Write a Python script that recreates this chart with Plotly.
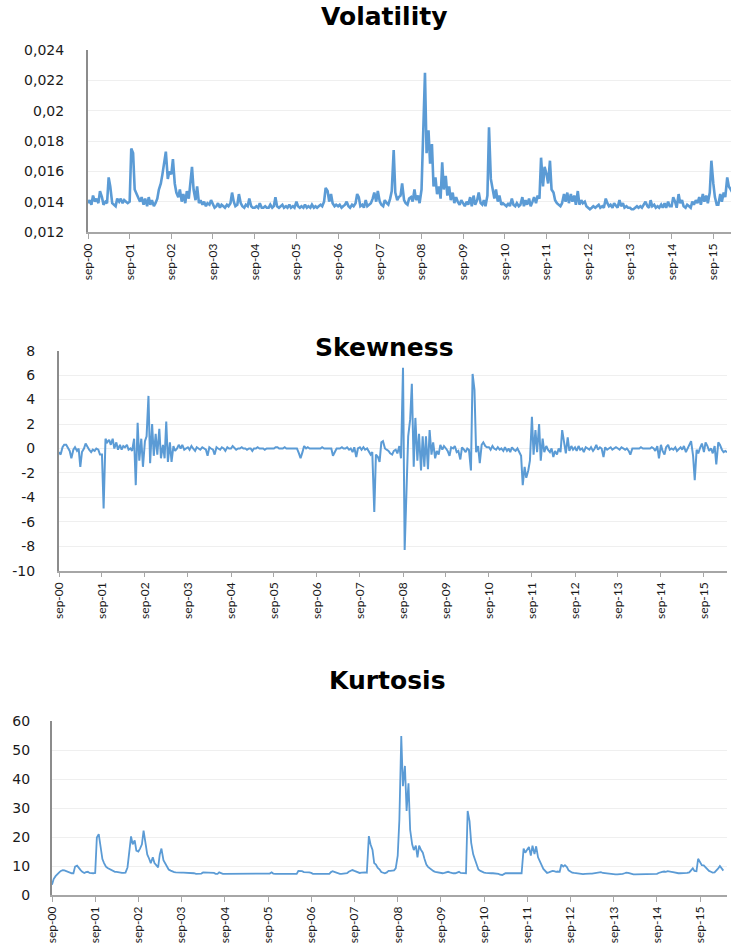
import pandas as pd
import plotly.graph_objects as go

# Semi-monthly observation dates (1st and 15th of each month), Sep 2000 - Mar 2016
dates = pd.date_range("2000-09-01", periods=374, freq="SMS")

# One row per year, starting in September
volatility = [
    0.0139, 0.0141, 0.0138, 0.0144, 0.0140, 0.0142, 0.0139, 0.0147, 0.0143, 0.0138, 0.0140, 0.0139, 0.0156, 0.0150, 0.0139, 0.0138, 0.0137, 0.0142, 0.0140, 0.0142, 0.0139, 0.0141, 0.0140, 0.0139,
    0.0140, 0.0175, 0.0172, 0.0148, 0.0145, 0.0142, 0.0140, 0.0143, 0.0138, 0.0142, 0.0137, 0.0143, 0.0138, 0.0141, 0.0137, 0.0139, 0.0142, 0.0148, 0.0152, 0.0158, 0.0165, 0.0173, 0.0155, 0.0160,
    0.0158, 0.0168, 0.0152, 0.0146, 0.0143, 0.0148, 0.0140, 0.0145, 0.0139, 0.0147, 0.0142, 0.0153, 0.0163, 0.0148, 0.0141, 0.0150, 0.0139, 0.0141, 0.0138, 0.0140, 0.0137, 0.0139, 0.0138, 0.0141,
    0.0138, 0.0136, 0.0137, 0.0139, 0.0136, 0.0138, 0.0137, 0.0136, 0.0138, 0.0137, 0.0139, 0.0146, 0.0140, 0.0137, 0.0138, 0.0145, 0.0139, 0.0137, 0.0136, 0.0138, 0.0137, 0.0142, 0.0137, 0.0136,
    0.0136, 0.0137, 0.0136, 0.0139, 0.0136, 0.0136, 0.0137, 0.0136, 0.0136, 0.0138, 0.0136, 0.0137, 0.0143, 0.0137, 0.0136, 0.0137, 0.0138, 0.0136, 0.0137, 0.0136, 0.0138, 0.0136, 0.0137, 0.0136,
    0.0140, 0.0137, 0.0136, 0.0137, 0.0136, 0.0138, 0.0136, 0.0137, 0.0136, 0.0138, 0.0136, 0.0137, 0.0136, 0.0137, 0.0138, 0.0137, 0.0140, 0.0149, 0.0147, 0.0140, 0.0145, 0.0139, 0.0137, 0.0138,
    0.0137, 0.0138, 0.0136, 0.0137, 0.0138, 0.0140, 0.0137, 0.0136, 0.0138, 0.0137, 0.0139, 0.0145, 0.0143, 0.0137, 0.0138, 0.0136, 0.0141, 0.0137, 0.0138, 0.0139, 0.0142, 0.0146, 0.0140, 0.0147,
    0.0140, 0.0138, 0.0137, 0.0141, 0.0139, 0.0138, 0.0142, 0.0147, 0.0174, 0.0146, 0.0141, 0.0143, 0.0144, 0.0152, 0.0141, 0.0139, 0.0138, 0.0142, 0.0143, 0.0140, 0.0148, 0.0141, 0.0144, 0.0139,
    0.0148, 0.0178, 0.0225, 0.0172, 0.0187, 0.0165, 0.0178, 0.0150, 0.0156, 0.0145, 0.0150, 0.0142, 0.0166, 0.0148, 0.0157, 0.0144, 0.0150, 0.0141, 0.0146, 0.0139, 0.0143, 0.0140, 0.0138, 0.0141,
    0.0139, 0.0137, 0.0140, 0.0138, 0.0143, 0.0137, 0.0144, 0.0138, 0.0141, 0.0146, 0.0139, 0.0138, 0.0141, 0.0137, 0.0144, 0.0189, 0.0155, 0.0150, 0.0142, 0.0148, 0.0140, 0.0144, 0.0138, 0.0139,
    0.0138, 0.0137, 0.0139, 0.0137, 0.0142, 0.0138, 0.0137, 0.0139, 0.0137, 0.0138, 0.0143, 0.0137, 0.0141, 0.0138, 0.0142, 0.0137, 0.0140, 0.0143, 0.0139, 0.0144, 0.0142, 0.0169, 0.0150, 0.0163,
    0.0158, 0.0152, 0.0167, 0.0148, 0.0146, 0.0141, 0.0139, 0.0138, 0.0137, 0.0139, 0.0145, 0.0140, 0.0146, 0.0139, 0.0145, 0.0140, 0.0144, 0.0138, 0.0147, 0.0138, 0.0141, 0.0139, 0.0140, 0.0137,
    0.0136, 0.0135, 0.0136, 0.0137, 0.0136, 0.0137, 0.0138, 0.0136, 0.0137, 0.0136, 0.0142, 0.0139, 0.0137, 0.0138, 0.0136, 0.0139, 0.0137, 0.0136, 0.0141, 0.0137, 0.0139, 0.0136, 0.0137, 0.0136,
    0.0136, 0.0135, 0.0135, 0.0136, 0.0137, 0.0136, 0.0137, 0.0136, 0.0138, 0.0140, 0.0137, 0.0136, 0.0141, 0.0137, 0.0138, 0.0136, 0.0137, 0.0136, 0.0138, 0.0136, 0.0139, 0.0136, 0.0140, 0.0137,
    0.0137, 0.0143, 0.0140, 0.0136, 0.0145, 0.0139, 0.0141, 0.0137, 0.0136, 0.0138, 0.0137, 0.0136, 0.0140, 0.0138, 0.0141, 0.0139, 0.0143, 0.0138, 0.0145, 0.0140, 0.0144, 0.0139, 0.0146, 0.0167,
    0.0152, 0.0143, 0.0138, 0.0138, 0.0145, 0.0140, 0.0146, 0.0143, 0.0156, 0.0150, 0.0148, 0.0146, 0.0150, 0.0156,
]

skewness = [
    -0.3, -0.5, 0.1, 0.3, 0.3, 0.0, -0.2, -0.8, -0.1, 0.1, -0.2, 0.0, -1.5, -0.3, 0.0, 0.4, 0.1, -0.1, -0.3, -0.1, -0.2, 0.0, -0.1, -0.5,
    -0.5, -4.9, 0.8, 0.5, 0.7, 0.3, 0.8, 0.0, 0.5, -0.1, 0.3, -0.1, 0.2, 0.1, 0.3, -0.1, 0.0, -0.2, 0.8, -3.0, 2.1, -1.0, 0.8, -1.5,
    0.6, 1.0, 4.3, -1.2, 2.0, -0.6, 1.2, -0.5, 1.6, -0.8, 0.3, -0.8, 2.2, -1.1, 0.5, -1.1, 0.2, -0.2, 0.0, 0.3, 0.0, 0.3, -0.1, 0.0,
    0.1, -0.1, 0.2, 0.0, -0.2, 0.1, 0.0, -0.1, 0.1, 0.0, -0.1, -0.6, 0.1, 0.0, -0.1, -0.5, 0.1, 0.0, -0.1, 0.1, 0.0, -0.2, 0.1, 0.0,
    0.0, 0.2, 0.0, -0.1, 0.0, 0.0, 0.1, 0.0, 0.0, -0.1, 0.0, 0.0, -0.2, 0.0, 0.0, 0.1, 0.0, 0.0, 0.0, -0.1, 0.0, 0.0, 0.0, 0.0,
    0.0, 0.1, 0.1, 0.0, 0.0, 0.0, 0.1, 0.0, 0.0, 0.0, 0.0, 0.0, 0.0, 0.0, -0.4, -0.8, -0.3, 0.2, 0.0, 0.1, 0.0, 0.0, 0.0, 0.0,
    0.0, 0.0, 0.0, 0.1, 0.0, 0.0, 0.0, 0.0, 0.0, -0.6, -0.3, 0.0, 0.0, 0.0, 0.1, 0.0, 0.0, 0.1, -0.1, 0.0, -0.3, 0.1, -0.7, 0.0,
    0.1, -0.1, 0.1, -0.1, 0.0, -0.2, -0.5, -0.3, -5.2, -0.5, -0.7, -1.1, 0.5, 0.6, 0.0, -0.1, -0.2, -0.4, -0.5, -0.2, -0.1, -0.4, 0.2, -0.8,
    6.6, -8.3, -2.6, 1.0, 2.4, 5.3, -1.5, 2.5, -1.0, 1.2, -1.8, 1.0, -1.5, 1.0, -1.7, 1.5, -0.5, 0.5, -0.8, -0.2, -0.5, 0.3, -0.1, 0.2,
    0.0, -0.2, -0.6, 0.1, 0.0, 0.2, -0.3, -0.2, -0.9, 0.1, -0.1, -0.3, 0.0, -0.1, -1.8, 6.1, 4.8, -0.3, 0.2, -1.2, 0.3, 0.5, 0.2, 0.1,
    0.1, -0.1, 0.2, 0.0, -0.1, 0.1, -0.1, 0.0, -0.2, 0.1, -0.2, 0.0, -0.3, 0.1, -0.1, -0.2, 0.0, -0.3, -0.6, -3.0, -1.5, -2.4, -1.8, -1.0,
    2.6, -0.5, 1.5, -0.3, 2.0, -1.0, 0.8, -0.3, 0.2, -0.1, -0.3, 0.0, -0.7, -0.2, -0.5, 0.0, -0.3, 1.5, 0.3, -0.4, 0.9, -0.2, 0.2, -0.1,
    0.1, -0.2, 0.2, -0.1, 0.0, -0.3, 0.1, 0.0, -0.1, 0.1, -0.2, 0.0, 0.3, -0.1, 0.1, 0.0, -0.7, 0.1, -0.1, 0.0, 0.1, -0.1, 0.0, 0.1,
    0.0, -0.1, 0.1, 0.0, -0.1, 0.0, -0.2, -0.5, 0.0, 0.0, 0.0, 0.0, 0.0, 0.1, 0.0, 0.0, 0.0, 0.0, 0.0, 0.1, 0.0, -0.2, 0.2, -0.8,
    0.3, -0.2, -0.5, 0.1, 0.3, -0.1, 0.0, -0.1, 0.1, -0.2, 0.0, 0.1, -0.1, 0.2, -0.3, 0.0, 0.2, 0.6, -0.6, -2.6, -0.1, -0.4, 0.1, 0.4,
    -0.3, 0.5, 0.2, -0.2, 0.0, -0.4, 0.2, -1.3, 0.5, 0.3, -0.1, -0.3, -0.2, -0.3,
]

kurtosis = [
    3.5, 5.5, 6.5, 7.2, 7.8, 8.3, 8.6, 8.5, 8.2, 7.8, 7.6, 7.5, 7.5, 9.8, 10.1, 9.2, 8.6, 8.0, 7.6, 7.9, 8.0, 7.6, 7.5, 7.5,
    7.6, 19.8, 21.0, 16.5, 12.4, 11.0, 9.8, 9.3, 9.0, 8.6, 8.2, 8.0, 8.0, 7.8, 7.6, 7.6, 7.6, 7.7, 9.5, 13.8, 20.2, 17.5, 18.8, 15.3,
    15.0, 16.0, 17.5, 22.2, 17.0, 14.0, 12.5, 11.0, 13.0, 11.0, 10.2, 9.5, 14.0, 16.0, 12.0, 11.0, 9.5, 8.8, 8.4, 8.1, 7.9, 7.8, 7.7, 7.7,
    7.7, 7.7, 7.7, 7.7, 7.6, 7.6, 7.6, 7.5, 7.3, 7.3, 7.3, 7.4, 7.8, 7.8, 7.8, 7.8, 7.7, 7.7, 7.6, 7.3, 7.3, 7.8, 7.4, 7.3,
    7.3, 7.3, 7.3, 7.3, 7.3, 7.3, 7.3, 7.3, 7.3, 7.3, 7.3, 7.3, 7.3, 7.3, 7.3, 7.3, 7.3, 7.3, 7.3, 7.3, 7.3, 7.3, 7.3, 7.3,
    7.3, 7.4, 7.8, 7.4, 7.3, 7.3, 7.3, 7.3, 7.3, 7.3, 7.3, 7.3, 7.3, 7.3, 7.3, 7.3, 7.3, 8.3, 8.3, 8.2, 7.9, 7.9, 7.8, 7.8,
    7.6, 7.3, 7.3, 7.3, 7.3, 7.3, 7.3, 7.3, 7.3, 7.3, 7.3, 7.9, 8.2, 8.0, 7.7, 7.5, 7.3, 7.3, 7.3, 7.3, 7.5, 8.0, 8.5, 8.6,
    8.3, 8.0, 7.7, 7.6, 7.7, 7.8, 7.8, 7.7, 20.3, 17.5, 15.5, 11.0, 10.5, 9.4, 8.8, 7.9, 7.6, 7.5, 7.8, 8.3, 8.3, 8.3, 8.5, 9.2,
    13.6, 26.0, 54.8, 37.5, 44.5, 29.0, 38.5, 22.5, 17.5, 15.5, 17.0, 13.0, 17.0, 15.7, 14.6, 12.5, 10.5, 9.7, 9.2, 8.5, 8.2, 8.0, 7.8, 7.7,
    7.6, 7.5, 7.6, 7.7, 8.0, 7.8, 7.5, 7.5, 7.5, 7.7, 8.0, 7.6, 7.5, 7.5, 7.5, 29.0, 25.5, 18.0, 14.0, 12.3, 10.0, 8.8, 8.3, 7.9,
    7.7, 7.6, 7.5, 7.5, 7.5, 7.5, 7.5, 7.5, 7.3, 7.0, 6.9, 7.2, 7.5, 7.5, 7.5, 7.5, 7.5, 7.5, 7.5, 7.5, 7.5, 7.5, 16.0, 14.6,
    15.7, 16.6, 13.6, 17.0, 14.1, 16.8, 13.0, 11.5, 10.2, 9.0, 8.0, 7.6, 7.8, 8.0, 8.3, 8.2, 8.0, 8.1, 8.0, 10.5, 9.8, 10.3, 9.6, 8.5,
    8.0, 7.7, 7.6, 7.5, 7.4, 7.2, 7.1, 7.2, 7.3, 7.4, 7.4, 7.4, 7.4, 7.5, 7.5, 7.5, 7.6, 7.9, 7.6, 7.5, 7.4, 7.4, 7.3, 7.2,
    7.1, 7.1, 7.1, 7.1, 7.2, 7.3, 7.5, 7.7, 7.6, 7.4, 7.2, 7.1, 7.1, 7.1, 7.1, 7.1, 7.1, 7.1, 7.1, 7.2, 7.1, 7.1, 7.1, 7.1,
    7.3, 7.6, 7.9, 8.0, 8.1, 8.0, 8.2, 8.2, 8.0, 7.9, 7.7, 7.6, 7.5, 7.5, 7.5, 7.5, 7.5, 7.6, 7.8, 8.5, 9.2, 8.3, 8.2, 12.5,
    11.5, 10.3, 10.2, 9.5, 8.8, 8.3, 8.0, 7.7, 7.8, 8.3, 9.2, 10.0, 9.0, 8.4,
]

year_ticks = ["2000-09-01", "2001-09-01", "2002-09-01", "2003-09-01", "2004-09-01", "2005-09-01",
              "2006-09-01", "2007-09-01", "2008-09-01", "2009-09-01", "2010-09-01", "2011-09-01",
              "2012-09-01", "2013-09-01", "2014-09-01", "2015-09-01"]
year_labels = ["sep-00", "sep-01", "sep-02", "sep-03", "sep-04", "sep-05", "sep-06", "sep-07",
               "sep-08", "sep-09", "sep-10", "sep-11", "sep-12", "sep-13", "sep-14", "sep-15"]

vol_ticks = [0.012, 0.014, 0.016, 0.018, 0.020, 0.022, 0.024]
vol_labels = ["0,012", "0,014", "0,016", "0,018", "0,02", "0,022", "0,024"]
skew_ticks = [-10, -8, -6, -4, -2, 0, 2, 4, 6, 8]
kurt_ticks = [0, 10, 20, 30, 40, 50, 60]

LINE = "#5B9BD5"
W, H = 731, 947

fig = go.Figure()
fig.add_trace(go.Scatter(x=dates, y=volatility, mode="lines", line=dict(color=LINE, width=2.6),
                         xaxis="x", yaxis="y", showlegend=False))
fig.add_trace(go.Scatter(x=dates, y=skewness, mode="lines", line=dict(color=LINE, width=2),
                         xaxis="x2", yaxis="y2", showlegend=False))
fig.add_trace(go.Scatter(x=dates, y=kurtosis, mode="lines", line=dict(color=LINE, width=1.8),
                         xaxis="x3", yaxis="y3", showlegend=False))

xfont = dict(family="Lato, Liberation Sans, Arial, sans-serif", size=12, color="#1a1a1a")
yfont = dict(family="DejaVu Sans, Verdana, sans-serif", size=14, color="#1a1a1a")


def xaxis(domain, anchor, end):
    return dict(domain=domain, anchor=anchor, type="date", range=["2000-09-01", end],
                automargin=False, tickvals=year_ticks, ticktext=year_labels, tickangle=-90,
                tickfont=xfont, showline=True, linecolor="#a6a6a6", linewidth=1.5,
                ticks="outside", ticklen=5, tickcolor="#a6a6a6", tickwidth=1.2,
                showgrid=False, zeroline=False)


def yaxis(domain, anchor, rng, vals, text, standoff):
    return dict(domain=domain, anchor=anchor, range=rng, tickvals=vals, ticktext=text,
                automargin=False, tickfont=yfont, showline=True, linecolor="#8c8c8c",
                linewidth=2, showgrid=True, gridcolor="#efefef", gridwidth=1, zeroline=False,
                ticks="outside", ticklen=standoff, tickcolor="rgba(0,0,0,0)")


fig.update_layout(
    width=W, height=H,
    margin=dict(l=0, r=0, t=0, b=0, autoexpand=False),
    paper_bgcolor="white", plot_bgcolor="white",
    xaxis=xaxis([88 / W, 1.0], "y", "2016-02-03"),
    yaxis=yaxis([1 - 232 / H, 1 - 50 / H], "x", [0.012, 0.024], vol_ticks, vol_labels, 19),
    xaxis2=xaxis([59 / W, 727 / W], "y2", "2016-03-15"),
    yaxis2=yaxis([1 - 570.7 / H, 1 - 350.7 / H], "x2", [-10, 8], skew_ticks,
                 [str(v) for v in skew_ticks], 19),
    xaxis3=xaxis([52 / W, 727 / W], "y3", "2016-04-15"),
    yaxis3=yaxis([1 - 895 / H, 1 - 721 / H], "x3", [0, 60], kurt_ticks,
                 [str(v) for v in kurt_ticks], 17),
)

title_font = dict(family="DejaVu Sans, Verdana, sans-serif", size=25, color="#000000")
for text, xc, yc in [("Volatility", 384, 17), ("Skewness", 384, 348), ("Kurtosis", 387, 680)]:
    fig.add_annotation(text=f"<b>{text}</b>", xref="paper", yref="paper",
                       x=xc / W, y=1 - yc / H, xanchor="center", yanchor="middle",
                       showarrow=False, font=title_font)

fig.write_html("out.html")
